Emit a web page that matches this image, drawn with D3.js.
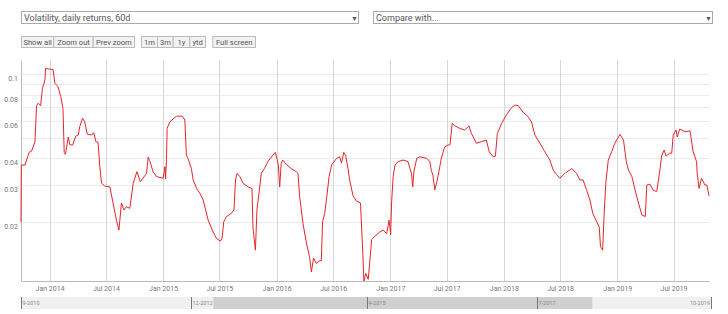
<!DOCTYPE html>
<html>
<head>
<meta charset="utf-8">
<script src="https://cdn.jsdelivr.net/npm/d3@7"></script>
<style>
  body { margin: 0; background: #fff; font-family: Roboto, "Noto Sans", sans-serif; }
  text { font-family: Roboto, "Noto Sans", sans-serif; }
</style>
</head>
<body>
<div id="chart"></div>
<script>
// volatility of daily returns, 60d window
const dates = [
  "2013-10-01","2013-10-02","2013-10-14","2013-10-19","2013-10-27","2013-11-04","2013-11-09","2013-11-15",
  "2013-11-20","2013-11-25","2013-12-03","2013-12-09","2013-12-17","2013-12-19","2014-01-12","2014-01-18",
  "2014-01-28","2014-02-06","2014-02-13","2014-02-17","2014-02-21","2014-03-02","2014-03-07","2014-03-16",
  "2014-03-26","2014-04-03","2014-04-08","2014-04-17","2014-04-24","2014-05-02","2014-05-16","2014-05-23",
  "2014-05-30","2014-06-06","2014-06-11","2014-06-17","2014-06-27","2014-07-14","2014-07-24","2014-08-04",
  "2014-08-12","2014-08-20","2014-08-28","2014-09-05","2014-09-16","2014-09-27","2014-10-09","2014-10-20",
  "2014-11-09","2014-11-14","2014-11-19","2014-11-30","2014-12-11","2015-01-01","2015-01-07","2015-01-09",
  "2015-01-12","2015-01-14","2015-01-23","2015-02-13","2015-03-04","2015-03-12","2015-03-17","2015-03-22",
  "2015-04-02","2015-04-08","2015-04-19","2015-04-29","2015-05-10","2015-05-26","2015-06-11","2015-06-22",
  "2015-07-05","2015-07-10","2015-07-15","2015-07-24","2015-08-09","2015-08-17","2015-08-22","2015-08-27",
  "2015-09-05","2015-09-15","2015-10-02","2015-10-14","2015-10-17","2015-10-25","2015-10-30","2015-11-08",
  "2015-11-13","2015-11-23","2015-12-04","2015-12-20","2015-12-28","2016-01-02","2016-01-07","2016-01-11",
  "2016-01-16","2016-01-21","2016-02-01","2016-02-17","2016-03-05","2016-03-10","2016-03-15","2016-03-26",
  "2016-04-06","2016-04-16","2016-04-22","2016-04-29","2016-05-08","2016-05-19","2016-05-24","2016-05-28",
  "2016-06-04","2016-06-12","2016-06-18","2016-06-26","2016-07-12","2016-07-22","2016-07-28","2016-08-04",
  "2016-08-10","2016-08-18","2016-08-23","2016-09-03","2016-09-14","2016-09-27","2016-10-04","2016-10-08",
  "2016-10-14","2016-10-22","2016-11-02","2016-11-12","2016-11-28","2016-12-09","2016-12-20","2016-12-28",
  "2017-01-02","2017-01-05","2017-01-10","2017-01-16","2017-01-26","2017-02-11","2017-02-27","2017-03-05",
  "2017-03-10","2017-03-14","2017-03-18","2017-03-27","2017-04-06","2017-04-28","2017-05-08","2017-05-13",
  "2017-05-18","2017-05-24","2017-06-01","2017-06-09","2017-06-14","2017-06-25","2017-07-05","2017-07-12",
  "2017-07-19","2017-07-27","2017-08-12","2017-08-28","2017-09-11","2017-09-19","2017-10-05","2017-10-21",
  "2017-11-06","2017-11-15","2017-11-28","2017-12-05","2017-12-11","2017-12-25","2018-01-10","2018-01-26",
  "2018-02-06","2018-02-16","2018-03-04","2018-03-20","2018-03-31","2018-04-11","2018-04-27","2018-05-13",
  "2018-05-29","2018-06-09","2018-06-20","2018-06-30","2018-07-17","2018-08-07","2018-08-23","2018-09-03",
  "2018-09-13","2018-09-24","2018-10-05","2018-10-14","2018-10-27","2018-11-04","2018-11-08","2018-11-15",
  "2018-11-19","2018-11-25","2018-12-03","2018-12-14","2018-12-24","2019-01-10","2019-01-21","2019-01-30",
  "2019-02-06","2019-02-17","2019-02-27","2019-03-10","2019-03-21","2019-04-01","2019-04-06","2019-04-16",
  "2019-04-27","2019-05-08","2019-05-18","2019-05-24","2019-06-01","2019-06-07","2019-06-18","2019-06-25",
  "2019-06-30","2019-07-09","2019-07-13","2019-07-21","2019-08-07","2019-08-23","2019-09-02","2019-09-13",
  "2019-09-15","2019-09-21","2019-09-29","2019-10-10","2019-10-16","2019-10-23"
];
const volatility = [
  0.0200,0.0372,0.0372,0.0393,0.0427,0.0433,0.0454,0.0480,
  0.0710,0.0730,0.0710,0.0858,0.0940,0.1067,0.1053,0.0907,
  0.0875,0.0784,0.0690,0.0427,0.0418,0.0505,0.0465,0.0462,
  0.0510,0.0516,0.0566,0.0620,0.0596,0.0521,0.0516,0.0530,
  0.0480,0.0477,0.0372,0.0305,0.0296,0.0293,0.0246,0.0204,
  0.0183,0.0246,0.0228,0.0236,0.0232,0.0305,0.0346,0.0310,
  0.0340,0.0405,0.0390,0.0345,0.0328,0.0322,0.0365,0.0320,
  0.0395,0.0555,0.0596,0.0634,0.0634,0.0608,0.0414,0.0400,
  0.0358,0.0316,0.0288,0.0274,0.0254,0.0204,0.0179,0.0167,
  0.0162,0.0168,0.0200,0.0212,0.0220,0.0228,0.0316,0.0340,
  0.0328,0.0305,0.0293,0.0288,0.0189,0.0147,0.0228,0.0293,
  0.0340,0.0358,0.0386,0.0414,0.0427,0.0400,0.0370,0.0293,
  0.0379,0.0393,0.0375,0.0358,0.0346,0.0340,0.0266,0.0197,
  0.0159,0.0137,0.0116,0.0135,0.0127,0.0131,0.0131,0.0200,
  0.0220,0.0274,0.0328,0.0372,0.0400,0.0407,0.0380,0.0427,
  0.0414,0.0358,0.0316,0.0266,0.0251,0.0246,0.0147,0.0105,
  0.0114,0.0107,0.0165,0.0171,0.0179,0.0183,0.0176,0.0204,
  0.0174,0.0246,0.0328,0.0372,0.0386,0.0393,0.0386,0.0358,
  0.0340,0.0293,0.0348,0.0400,0.0407,0.0400,0.0386,0.0350,
  0.0333,0.0284,0.0316,0.0365,0.0400,0.0454,0.0462,0.0465,
  0.0586,0.0572,0.0555,0.0545,0.0570,0.0524,0.0472,0.0480,
  0.0488,0.0430,0.0407,0.0410,0.0524,0.0586,0.0645,0.0697,
  0.0716,0.0712,0.0662,0.0631,0.0596,0.0516,0.0472,0.0430,
  0.0393,0.0352,0.0335,0.0322,0.0340,0.0358,0.0340,0.0316,
  0.0316,0.0284,0.0254,0.0220,0.0200,0.0189,0.0153,0.0147,
  0.0208,0.0305,0.0393,0.0430,0.0472,0.0520,0.0488,0.0386,
  0.0352,0.0328,0.0284,0.0246,0.0216,0.0212,0.0299,0.0302,
  0.0282,0.0279,0.0352,0.0414,0.0438,0.0410,0.0423,0.0423,
  0.0516,0.0545,0.0505,0.0551,0.0535,0.0540,0.0430,0.0386,
  0.0340,0.0288,0.0322,0.0299,0.0299,0.0266
];
const gridValues = [0.02, 0.03, 0.04, 0.05, 0.06, 0.07, 0.08, 0.09, 0.1];
const yTickValues = [0.02, 0.03, 0.04, 0.06, 0.08, 0.1];
const yDomain = [0.0105, 0.117];

const seriesOptions = ["Volatility, daily returns, 60d", "Compare with..."];
const zoomButtons = [["Show all", "Zoom out", "Prev zoom"], ["1m", "3m", "1y", "ytd"], ["Full screen"]];

// navigator (overview strip)
const navRange = ["2010-09-01", "2019-10-23"];
const navTicks = ["2010-09-01", "2012-12-01", "2015-04-01", "2017-07-01", "2019-10-01"];
const navSelection = ["2013-03-20", "2018-03-28"];

const W = 728, H = 314;
const margin = {top: 60, right: 19, bottom: 33, left: 21},
    width = W - margin.left - margin.right,
    height = H - margin.top - margin.bottom;

const parse = d3.timeParse("%Y-%m-%d");
const data = dates.map((d, i) => ({date: parse(d), value: volatility[i]}));

const svg = d3.select("#chart")
  .append("svg")
    .attr("width", W)
    .attr("height", H);

// ---- top controls ----
const selects = svg.append("g");
const selX = [[21, 358], [373, 712]];
seriesOptions.forEach((label, i) => {
  const g = selects.append("g");
  g.append("rect")
    .attr("x", selX[i][0] + 0.5).attr("y", 11.5)
    .attr("width", selX[i][1] - selX[i][0]).attr("height", 12)
    .attr("fill", "#fff").attr("stroke", "#aaa");
  g.append("text")
    .attr("x", selX[i][0] + 3).attr("y", 21)
    .attr("font-size", 9).attr("fill", "#555")
    .text(label);
  g.append("text")
    .attr("x", selX[i][1] - 7).attr("y", 20.5)
    .attr("font-size", 7).attr("fill", "#555")
    .text("▼");
});

const btnWidths = {"Show all": 32.3, "Zoom out": 39.4, "Prev zoom": 41.3, "1m": 16, "3m": 15.7, "1y": 16.6, "ytd": 15.7, "Full screen": 42.7};
let bx = 21;
const buttons = svg.append("g");
zoomButtons.forEach((group, gi) => {
  group.forEach(label => {
    const w = btnWidths[label];
    buttons.append("rect")
      .attr("x", bx + 0.5).attr("y", 36.5)
      .attr("width", w).attr("height", 11)
      .attr("fill", "#f2f2f2").attr("stroke", "#bbb");
    buttons.append("text")
      .attr("x", bx + w / 2 + 0.5).attr("y", 45)
      .attr("text-anchor", "middle")
      .attr("font-size", 7.6).attr("fill", "#555")
      .text(label);
    bx += w;
  });
  bx += gi === 0 ? 7 : 7.3;
});

// ---- main chart ----
const g = svg.append("g")
    .attr("transform", `translate(${margin.left},${margin.top})`);

const x = d3.scaleTime()
    .domain(d3.extent(data, d => d.date))
    .range([0, width]);

const y = d3.scaleLog()
    .domain(yDomain)
    .range([height, 0]);

// horizontal grid
g.append("g")
  .selectAll("line")
  .data(gridValues)
  .join("line")
    .attr("x1", 0).attr("x2", width)
    .attr("y1", d => Math.round(y(d)) + 0.5).attr("y2", d => Math.round(y(d)) + 0.5)
    .attr("stroke", "#ececec");

// vertical grid on the time ticks
const xTicks = x.ticks(d3.timeMonth.every(6));
g.append("g")
  .selectAll("line")
  .data(xTicks)
  .join("line")
    .attr("x1", d => Math.round(x(d)) + 0.5).attr("x2", d => Math.round(x(d)) + 0.5)
    .attr("y1", 0).attr("y2", height)
    .attr("stroke", "#d6d6d6");

// x axis
const xAxis = g.append("g")
    .attr("transform", `translate(0,${height})`)
    .call(d3.axisBottom(x).tickValues(xTicks).tickFormat(d3.timeFormat("%b %Y")).tickSize(0).tickPadding(5));
xAxis.select(".domain").attr("stroke", "#bbb");
xAxis.selectAll("text").attr("font-size", 7).attr("fill", "#777").attr("font-family", "Roboto, sans-serif");

// y axis
const yAxis = g.append("g")
    .call(d3.axisLeft(y).tickValues(yTickValues).tickFormat(d3.format("~g")).tickSize(0).tickPadding(3));
yAxis.select(".domain").attr("stroke", "#bbb");
yAxis.selectAll("text").attr("font-size", 7).attr("fill", "#777").attr("font-family", "Roboto, sans-serif")
  .attr("dy", "0.9em");

// series line
g.append("path")
    .datum(data)
    .attr("d", d3.line()
        .x(d => x(d.date))
        .y(d => y(d.value)))
    .attr("fill", "none")
    .attr("stroke", "#e3262b")
    .attr("stroke-width", 1)
    .attr("stroke-linejoin", "round");

// ---- navigator ----
const xNav = d3.scaleTime()
    .domain(navRange.map(parse))
    .range([21, 711]);

const nav = svg.append("g");
nav.append("rect")
  .attr("x", xNav.range()[0]).attr("y", 297)
  .attr("width", xNav.range()[1] - xNav.range()[0]).attr("height", 12)
  .attr("fill", "#f0f0f0");
nav.append("rect")
  .attr("x", xNav(parse(navSelection[0]))).attr("y", 297)
  .attr("width", xNav(parse(navSelection[1])) - xNav(parse(navSelection[0]))).attr("height", 12)
  .attr("fill", "#cfcfcf");

const fmtNav = d3.timeFormat("%-m-%Y");
navTicks.forEach((d, i) => {
  const last = i === navTicks.length - 1;
  const tx = last ? xNav.range()[1] : Math.round(xNav(parse(d)));
  nav.append("line")
    .attr("x1", tx + 0.5).attr("x2", tx + 0.5)
    .attr("y1", 297).attr("y2", 309)
    .attr("stroke", "#777");
  nav.append("text")
    .attr("x", last ? tx - 1 : tx + 1.5).attr("y", 305)
    .attr("text-anchor", last ? "end" : "start")
    .attr("font-size", 5.5).attr("fill", "#888")
    .text(fmtNav(parse(d)));
});
</script>
</body>
</html>
